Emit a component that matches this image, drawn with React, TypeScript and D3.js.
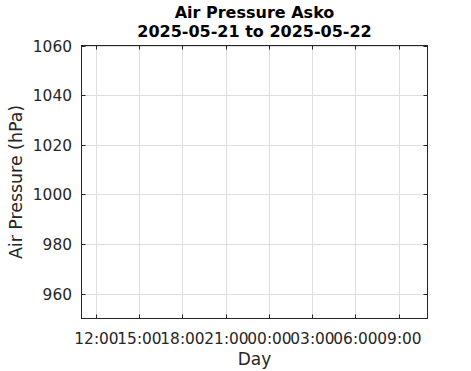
import React from "react";
import * as d3 from "d3";

const titleLines = ["Air Pressure Asko", "2025-05-21 to 2025-05-22"];
const yTicks = [960, 980, 1000, 1020, 1040, 1060];
const yDomain = [950, 1060];
const xDomain = [new Date(2025, 4, 21, 11, 0), new Date(2025, 4, 22, 11, 0)];
const xTickTimes = [
  new Date(2025, 4, 21, 12), new Date(2025, 4, 21, 15), new Date(2025, 4, 21, 18),
  new Date(2025, 4, 21, 21), new Date(2025, 4, 22, 0), new Date(2025, 4, 22, 3),
  new Date(2025, 4, 22, 6), new Date(2025, 4, 22, 9),
];
const xLabel = "Day";
const yLabel = "Air Pressure (hPa)";

export default function App() {
  const W = 471, H = 371;
  const left = 81.5, right = 427.5, top = 45.5, bottom = 318.5;
  const x = d3.scaleTime().domain(xDomain).range([left, right]);
  const y = d3.scaleLinear().domain(yDomain).range([bottom, top]);
  const fmt = d3.timeFormat("%H:%M");
  const font = "DejaVu Sans, sans-serif";
  const tl = 4;
  return (
    <svg width={W} height={H} style={{ position: "absolute", left: 0, top: 0, background: "#fff" }}>
      <rect x={0} y={0} width={W} height={H} fill="#fff" />
      {xTickTimes.map((t, i) => (
        <line key={"gx" + i} x1={Math.round(x(t)) + 0.5} x2={Math.round(x(t)) + 0.5} y1={top} y2={bottom} stroke="#dedede" strokeWidth={1} />
      ))}
      {yTicks.map((v, i) => (
        <line key={"gy" + i} x1={left} x2={right} y1={Math.round(y(v)) + 0.5} y2={Math.round(y(v)) + 0.5} stroke="#dedede" strokeWidth={1} />
      ))}
      {xTickTimes.map((t, i) => {
        const xx = Math.round(x(t)) + 0.5;
        return (
          <g key={"tx" + i}>
            <line x1={xx} x2={xx} y1={bottom} y2={bottom - tl} stroke="#262626" />
            <line x1={xx} x2={xx} y1={top} y2={top + tl} stroke="#262626" />
            <text x={xx} y={343.5} textAnchor="middle" fontFamily={font} fontSize={15.4} fill="#262626">{fmt(t)}</text>
          </g>
        );
      })}
      {yTicks.map((v, i) => {
        const yy = Math.round(y(v)) + 0.5;
        return (
          <g key={"ty" + i}>
            <line x1={left} x2={left + tl} y1={yy} y2={yy} stroke="#262626" />
            <line x1={right} x2={right - tl} y1={yy} y2={yy} stroke="#262626" />
            <text x={72} y={yy} dy="0.36em" textAnchor="end" fontFamily={font} fontSize={15.4} fill="#262626">{v}</text>
          </g>
        );
      })}
      <rect x={left} y={top} width={right - left} height={bottom - top} fill="none" stroke="#262626" strokeWidth={1} />
      {titleLines.map((s, i) => (
        <text key={"t" + i} x={(left + right) / 2} y={18 + i * 19} textAnchor="middle" fontFamily={font} fontWeight="bold" fontSize={16} fill="#000">{s}</text>
      ))}
      <text x={(left + right) / 2} y={364.5} textAnchor="middle" fontFamily={font} fontSize={17} fill="#262626">{xLabel}</text>
      <text transform={`translate(21.5,${(top + bottom) / 2}) rotate(-90)`} textAnchor="middle" fontFamily={font} fontSize={17.4} fill="#262626">{yLabel}</text>
    </svg>
  );
}
